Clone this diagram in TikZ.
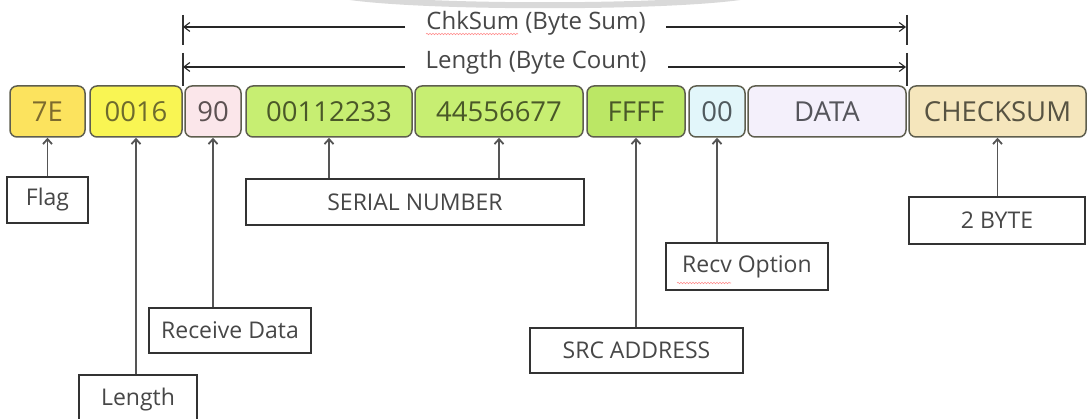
\documentclass[tikz,border=0pt]{standalone}
\usepackage{fontspec}
\setmainfont{Open Sans}
\usetikzlibrary{arrows.meta,decorations.pathmorphing}
\definecolor{fborder}{HTML}{5E5E4E}
\definecolor{lborder}{HTML}{333333}
\definecolor{ltext}{HTML}{474747}
\definecolor{agray}{HTML}{555555}
\definecolor{fA}{HTML}{FCE35E}\definecolor{tA}{HTML}{7D6B2E}
\definecolor{fB}{HTML}{F9F553}\definecolor{tB}{HTML}{6E6B2D}
\definecolor{fC}{HTML}{FBE6EA}\definecolor{tC}{HTML}{5C5152}
\definecolor{fG}{HTML}{C7EE72}\definecolor{tG}{HTML}{4A5828}
\definecolor{fF}{HTML}{BBE765}
\definecolor{fD}{HTML}{E2F6FA}\definecolor{tD}{HTML}{505A5E}
\definecolor{fE}{HTML}{F4F0FB}\definecolor{tE}{HTML}{55555B}
\definecolor{fH}{HTML}{F5E6BC}\definecolor{tH}{HTML}{575342}
\begin{document}
\begin{tikzpicture}[x=1pt,y=-1pt,
  field/.style={draw=fborder, line width=1.5pt, rounded corners=7pt, minimum height=51pt, inner sep=0pt, font=\fontsize{27.5}{32}\selectfont},
  lbl/.style={draw=lborder, line width=1.3pt, inner sep=0pt, font=\fontsize{23}{27}\selectfont, text=ltext},
  pointer/.style={draw=agray, line width=1.8pt, -{Straight Barb[length=5pt,width=9pt]}},
  dim/.style={draw=black!85, line width=1.1pt, -{Straight Barb[length=6pt,width=9pt]}},
  tickline/.style={draw=black!80, line width=1.1pt},
  dimlbl/.style={font=\fontsize{24}{28}\selectfont, text=black!72, inner sep=0pt},
  spell/.style={draw=red!45, line width=0.6pt, decorate, decoration={snake, segment length=3pt, amplitude=0.7pt}}
]
\useasboundingbox (0,0) rectangle (1087,419);
\clip (0,0) rectangle (1087,419);
\fill[white] (0,0) rectangle (1087,419);
% faint watermark arc
\draw[gray!30, line width=6pt] (350,-3) .. controls (430,8) and (660,8) .. (740,-3);

% fields
\node[field, fill=fA, text=tA, minimum width=75pt]  (b1) at (47.5,111.5) {7E};
\node[field, fill=fB, text=tB, minimum width=92pt]  (b2) at (136,111.5) {0016};
\node[field, fill=fC, text=tC, minimum width=56pt]  (b3) at (213,111.5) {90};
\node[field, fill=fG, text=tG, minimum width=166pt] (b4) at (329,111.5) {00112233};
\node[field, fill=fG, text=tG, minimum width=168pt] (b5) at (499,111.5) {44556677};
\node[field, fill=fF, text=tG, minimum width=98pt]  (b6) at (636,111.5) {FFFF};
\node[field, fill=fD, text=tD, minimum width=56pt]  (b7) at (717,111.5) {00};
\node[field, fill=fE, text=tE, minimum width=158pt] (b8) at (827,111.5) {DATA};
\node[field, fill=fH, text=tH, minimum width=177pt] (b9) at (997.5,111.5) {CHECKSUM};

% dimension lines
\coordinate (L1t) at (183,15); \coordinate (L1b) at (183,45);
\coordinate (L2t) at (183,53); \coordinate (L2b) at (183,86);
\coordinate (R1t) at (907,15); \coordinate (R1b) at (907,45);
\coordinate (R2t) at (907,53); \coordinate (R2b) at (907,86);
\draw[tickline] (L1t) -- (L1b);
\draw[tickline] (L2t) -- (L2b);
\draw[tickline] (R1t) -- (R1b);
\draw[tickline] (R2t) -- (R2b);

\node[dimlbl] (t1) at (536,23) {ChkSum (Byte Sum)};
\node[dimlbl] (t2) at (536,62) {Length (Byte Count)};
\coordinate (a1l) at (405,27); \coordinate (a1r) at (666,27);
\coordinate (a2l) at (405,67); \coordinate (a2r) at (668,67);
\draw[dim] (a1l) -- (L1t |- a1l);
\draw[dim] (a1r) -- ([xshift=-1pt]R1t |- a1r);
\draw[dim] (a2l) -- (L2t |- a2l);
\draw[dim] (a2r) -- ([xshift=-1pt]R2t |- a2r);
\coordinate (s1a) at (426,34); \coordinate (s1b) at (518,34);
\draw[spell] (s1a) -- (s1b);

% label boxes
\node[lbl, minimum width=81pt,  minimum height=46pt] (flag)  at (47.5,200) {Flag};
\node[lbl, minimum width=118pt, minimum height=50pt] (len)   at (138,400) {Length};
\node[lbl, minimum width=162pt, minimum height=45pt] (rdata) at (230,330.5) {Receive Data};
\node[lbl, minimum width=338pt, minimum height=46pt] (ser)   at (415,202) {SERIAL NUMBER};
\node[lbl, minimum width=213pt, minimum height=45pt] (src)   at (636.5,350.5) {SRC ADDRESS};
\node[lbl, minimum width=162pt, minimum height=47pt] (ropt)  at (747,266.5) {Recv Option};
\node[lbl, minimum width=176pt, minimum height=47pt] (two)   at (997,220.5) {2 BYTE};
\coordinate (s2a) at (677,283); \coordinate (s2b) at (731,283);
\draw[spell] (s2a) -- (s2b);

% pointers
\draw[pointer] (flag.north -| b1.south) -- (b1.south);
\draw[pointer] (len.north -| b2.south) -- (b2.south);
\draw[pointer] (rdata.north -| b3.south) -- (b3.south);
\draw[pointer] (ser.north -| b4.south) -- (b4.south);
\draw[pointer] (ser.north -| b5.south) -- (b5.south);
\draw[pointer] (src.north -| b6.south) -- (b6.south);
\draw[pointer] (ropt.north -| b7.south) -- (b7.south);
\draw[pointer] (two.north -| b9.south) -- (b9.south);
\end{tikzpicture}
\end{document}
